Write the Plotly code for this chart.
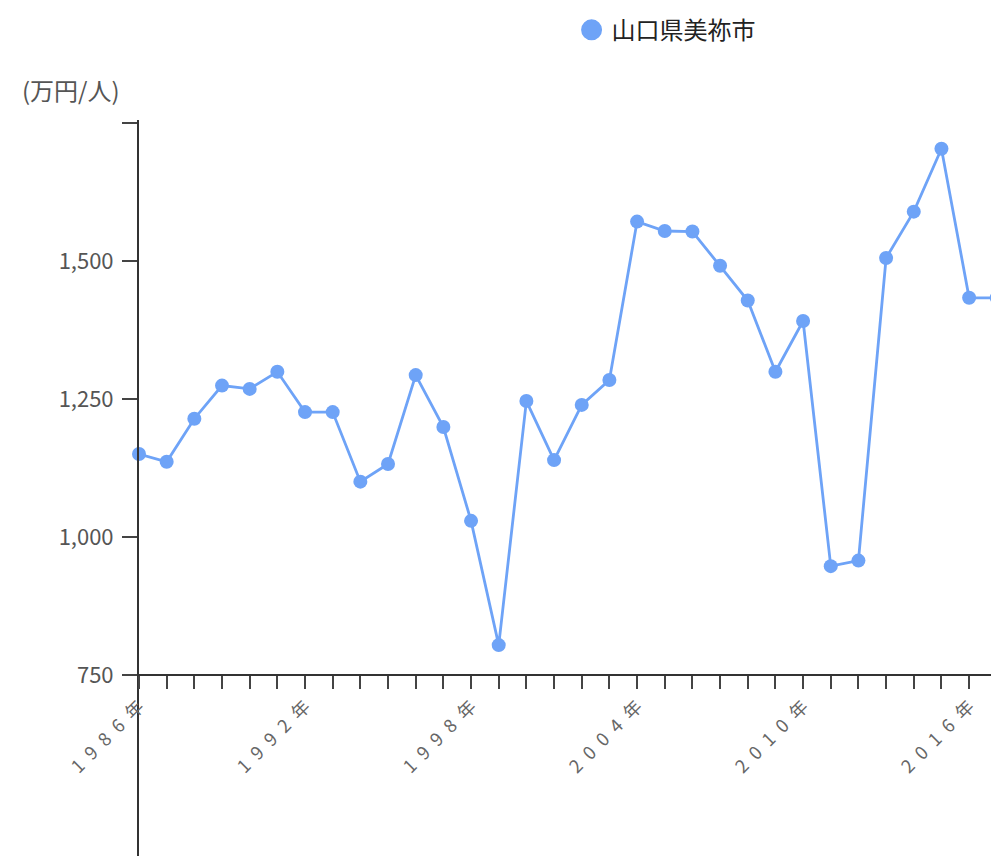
import plotly.graph_objects as go

# datos (万円/人)
years = list(range(1986, 2018))
values = [1150, 1136, 1214, 1274, 1268, 1299, 1226, 1226, 1100, 1132,
          1293, 1199, 1029, 804, 1246, 1139, 1239, 1284, 1571, 1554,
          1553, 1491, 1428, 1299, 1391, 947, 957, 1505, 1589, 1703,
          1433, 1433]
city = '山口県美祢市'
y_ticks = [750, 1000, 1250, 1500, 1750]
y_ticktext = ['750', '1,000', '1,250', '1,500', '']
x_ticktext = ['\u2002'.join(str(y)) + '\u2002年' if (y - 1986) % 6 == 0 else '' for y in years]

line_color = '#6ea3f7'
font = 'Noto Sans CJK JP'

fig = go.Figure()
fig.add_trace(go.Scatter(x=years, y=values, mode='lines+markers', name=city,
                         line=dict(color=line_color, width=2.8),
                         marker=dict(color=line_color, size=14),
                         cliponaxis=False, showlegend=False))
# solo para la leyenda (circulo sin linea)
fig.add_trace(go.Scatter(x=[None], y=[None], mode='markers', name=city,
                         marker=dict(color=line_color, size=16,
                                     line=dict(color=line_color, width=5))))

# el body del html tiene 8px de margen, se ajusta para no tener scroll
fig.update_layout(
    width=991, height=848,
    margin=dict(l=131, r=0, t=112, b=0, autoexpand=False),
    plot_bgcolor='white', paper_bgcolor='white',
    font=dict(family=font, color='#555'),
    legend=dict(orientation='h', x=0.503, y=1.122, xanchor='left', yanchor='middle',
                font=dict(size=24, color='#222')),
    xaxis=dict(range=[1986, 2017.08], tickvals=years, ticktext=x_ticktext,
               tickangle=-45, ticks='outside', ticklen=13, tickwidth=2,
               tickcolor='#444', showline=True, linecolor='#333', linewidth=2,
               showgrid=False, zeroline=False, anchor='free', position=0.246,
               tickfont=dict(size=18, color='#666')),
    yaxis=dict(range=[422, 1755], tickvals=y_ticks, ticktext=y_ticktext,
               ticks='outside', ticklen=15, tickwidth=2, tickcolor='#444',
               showline=True, linecolor='#333', linewidth=2,
               showgrid=False, zeroline=False, ticklabelstandoff=4,
               tickfont=dict(size=22, color='#555')),
)

fig.add_annotation(text='(万円/人)', xref='paper', yref='paper', x=-0.138, y=1.041,
                   xanchor='left', yanchor='middle', showarrow=False,
                   font=dict(size=24, color='#555'))

fig.write_html("out.html")
